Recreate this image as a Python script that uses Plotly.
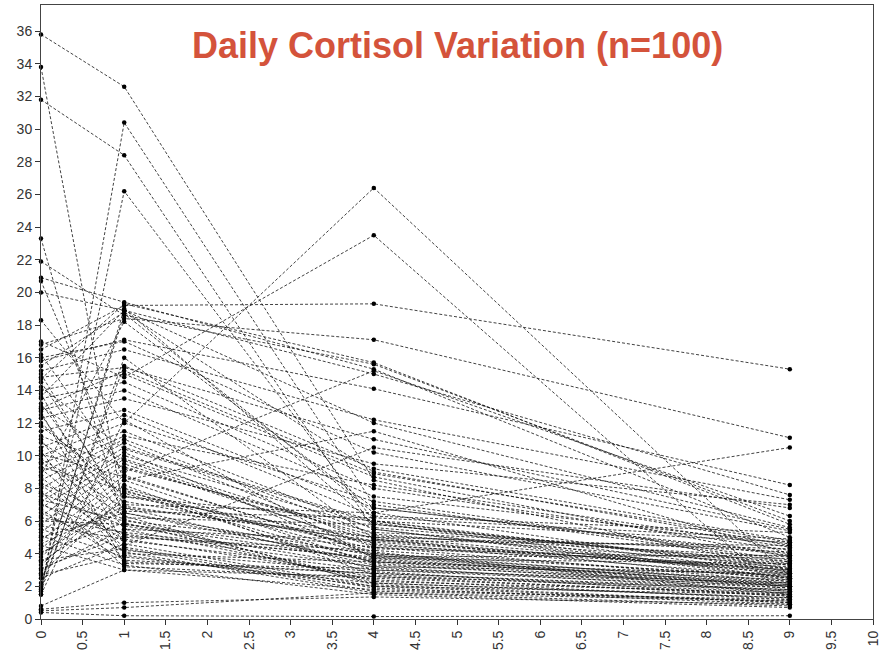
import plotly.graph_objects as go

times = [0, 1, 4, 9]

t0 = [35.8, 33.8, 31.8, 1.5, 1.8, 23.3, 21.9, 20.9, 20.7, 20.0,
      18.3, 17.0, 16.5, 16.8, 15.8, 15.5, 15.2, 14.8, 14.5, 14.0,
      13.8, 13.5, 13.2, 12.8, 12.5, 12.3, 12.0, 11.5, 11.0, 10.5,
      10.3, 10.0, 9.8, 9.5, 9.2, 9.0, 8.8, 8.5, 8.2, 8.0,
      7.8, 7.5, 7.3, 7.2, 7.0, 6.8, 6.5, 6.3, 6.0, 5.8,
      5.5, 5.3, 5.0, 4.8, 4.5, 4.3, 4.0, 3.8, 3.5, 3.3,
      3.0, 2.8, 2.5, 2.2, 2.0, 1.7, 1.5, 0.8, 0.6, 0.5,
      0.4, 16.2, 15.0, 14.2, 13.0, 12.7, 11.8, 11.2, 10.8, 10.1,
      9.6, 9.3, 8.7, 8.3, 7.7, 7.1, 6.7, 6.2, 5.7, 5.1,
      4.6, 4.1, 3.6, 3.1, 2.7, 1.9, 14.7, 13.6, 16.0, 12.9]

t1 = [32.6, 6.5, 28.4, 30.4, 26.2, 5.8, 18.6, 19.4, 8.5, 18.9,
      12.0, 14.8, 19.2, 18.4, 17.1, 18.8, 16.5, 15.4, 7.0, 15.0,
      4.5, 14.5, 6.2, 14.0, 5.5, 13.5, 7.5, 12.8, 4.0, 12.5,
      3.5, 12.0, 6.8, 11.5, 5.0, 11.2, 18.2, 11.0, 4.8, 10.8,
      3.2, 10.5, 6.0, 10.2, 5.2, 10.0, 4.2, 9.8, 5.8, 9.5,
      3.8, 9.2, 6.5, 8.8, 3.0, 8.5, 7.2, 8.2, 6.8, 7.8,
      5.5, 7.5, 4.6, 18.7, 19.0, 16.0, 12.2, 3.0, 1.0, 0.7,
      0.2, 9.0, 6.6, 10.4, 9.7, 3.4, 8.0, 9.3, 7.7, 8.7,
      6.3, 7.9, 4.4, 6.1, 5.7, 4.1, 3.6, 5.3, 4.9, 3.3,
      6.9, 5.9, 4.3, 5.1, 3.9, 15.5, 19.3, 18.9, 17.0, 15.2]

t4 = [8.5, 3.5, 5.5, 7.0, 6.0, 4.0, 15.6, 15.3, 11.5, 15.0,
      26.4, 23.5, 19.3, 17.1, 14.1, 9.0, 12.2, 11.0, 6.5, 8.7,
      10.5, 8.0, 5.8, 7.5, 4.8, 9.5, 6.0, 6.8, 3.5, 6.3,
      2.8, 7.2, 5.0, 5.5, 4.2, 8.2, 6.8, 5.2, 3.0, 4.6,
      2.5, 6.0, 4.4, 3.8, 3.2, 5.6, 2.9, 4.9, 3.6, 4.5,
      2.2, 5.3, 3.9, 4.0, 1.8, 3.4, 4.7, 2.7, 3.3, 4.3,
      2.4, 5.0, 2.0, 6.5, 5.8, 4.9, 3.7, 2.6, 1.35, 1.6,
      0.15, 15.2, 6.2, 5.9, 4.4, 3.1, 3.9, 5.1, 3.5, 4.1,
      2.1, 3.0, 1.9, 2.3, 3.2, 1.6, 2.8, 3.7, 2.6, 1.5,
      4.8, 2.2, 1.7, 3.8, 2.0, 9.2, 15.7, 12.0, 10.2, 8.9]

t9 = [3.0, 2.0, 2.5, 3.5, 2.8, 2.2, 6.0, 5.0, 4.0, 7.6,
      2.6, 1.2, 15.3, 11.1, 8.2, 4.5, 7.3, 5.5, 10.5, 3.8,
      6.8, 4.2, 3.4, 4.6, 2.9, 7.0, 3.1, 4.0, 2.4, 5.3,
      1.8, 3.6, 3.0, 2.7, 2.5, 4.4, 3.9, 3.3, 1.9, 2.6,
      1.5, 4.7, 2.3, 2.1, 1.7, 3.5, 1.4, 2.8, 2.2, 3.2,
      1.3, 4.1, 2.0, 2.6, 1.1, 1.9, 3.0, 1.6, 2.1, 3.7,
      1.2, 4.3, 1.0, 2.9, 3.3, 2.4, 2.0, 1.8, 0.9, 1.1,
      0.2, 6.3, 4.9, 2.5, 3.1, 2.0, 2.3, 3.8, 2.7, 1.5,
      1.0, 2.2, 0.9, 1.6, 2.8, 0.8, 1.7, 3.4, 1.4, 0.7,
      4.5, 1.3, 1.2, 3.9, 1.5, 4.8, 5.8, 5.6, 5.4, 4.7]

x_tick_vals = [i * 0.5 for i in range(21)]
x_tick_text = ["0", "0.5", "1", "1.5", "2", "2.5", "3", "3.5", "4", "4.5", "5",
               "5.5", "6", "6.5", "7", "7.5", "8", "8.5", "9", "9.5", "10"]
y_tick_vals = list(range(0, 37, 2))

title_text = "Daily Cortisol Variation (n=100)"

fig = go.Figure()
for a, b, c, d in zip(t0, t1, t4, t9):
    fig.add_trace(go.Scatter(
        x=times, y=[a, b, c, d], mode="lines+markers",
        line=dict(color="#111", width=0.8, dash="3px,2px"),
        marker=dict(color="black", size=4.5),
        showlegend=False, hoverinfo="skip", cliponaxis=False))

tick_font = dict(family="Liberation Sans, Arial, sans-serif", size=14, color="#333")

fig.update_layout(
    width=879, height=650,
    margin=dict(l=41, r=6, t=5, b=31),
    plot_bgcolor="white", paper_bgcolor="white",
    font=dict(family="Liberation Sans, Arial, sans-serif", size=14, color="#333"),
    xaxis=dict(range=[0, 10], tickvals=x_tick_vals, ticktext=x_tick_text,
               tickangle=-90, ticks="outside", ticklen=5, tickcolor="#333",
               showline=True, linecolor="#444", linewidth=1, mirror=True,
               showgrid=False, zeroline=False, tickfont=tick_font,
               automargin=False, ticklabeloverflow="allow"),
    yaxis=dict(range=[0, 37.6], tickvals=y_tick_vals, ticks="outside",
               ticklen=5, tickcolor="#333",
               showline=True, linecolor="#444", linewidth=1, mirror=True,
               showgrid=False, zeroline=False, tickfont=tick_font,
               automargin=False),
    annotations=[dict(text="<b>" + title_text + "</b>", xref="paper", yref="paper",
                      x=0.5, y=0.971, showarrow=False,
                      font=dict(family="Liberation Sans, Arial, sans-serif",
                                size=36, color="#D4533B"))],
)

fig.write_html("out.html",
               config={"displayModeBar": False},
               post_script="document.body.style.margin='0px';"
                           "document.body.style.overflow='hidden';")
